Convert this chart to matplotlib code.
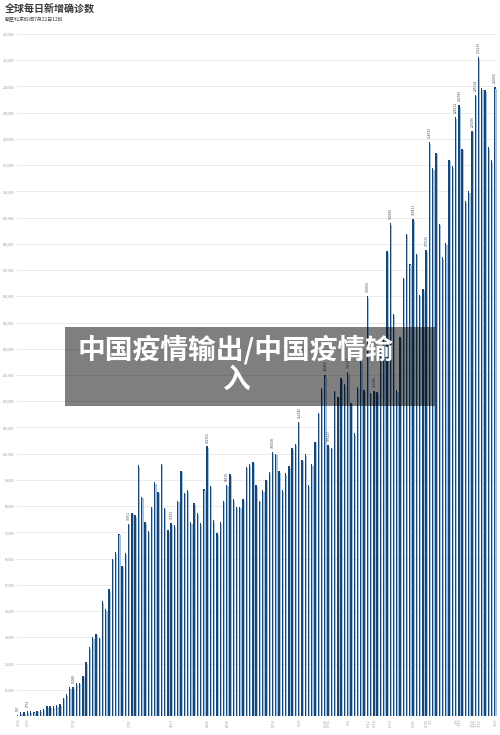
import numpy as np
import pandas as pd
import matplotlib
matplotlib.use("Agg")
import matplotlib.pyplot as plt
from matplotlib.patches import Rectangle

# daily new confirmed cases worldwide (last bar = 7/21)
daily_new = [
    557, 1400, 1500, 1772, 1800, 1700, 2000, 2200, 2700, 3700,
    3700, 3700, 4200, 4600, 6900, 8400, 10900, 11049, 12600, 12700,
    15400, 20500, 26200, 30000, 31300, 29800, 43800, 40700, 48400, 59900,
    62400, 69500, 57300, 62000, 73361, 77500, 76600, 95700, 83600, 73900,
    70500, 79800, 89100, 85500, 96100, 79400, 70900, 73531, 72800, 82100,
    93500, 85100, 86100, 73800, 81100, 77300, 73500, 86400, 102761, 87800,
    74700, 69600, 73800, 82000, 88195, 92200, 82700, 79800, 79800, 82700,
    95000, 96000, 97000, 88000, 82000, 86000, 90000, 93000, 100538, 100000,
    93400, 86000, 92600, 95200, 102000, 103800, 112146, 97700, 99800, 88000,
    96000, 104600, 115600, 125000, 129856, 103227, 102300, 124000, 121800, 128800,
    126400, 131027, 119400, 107900, 125300, 135500, 124100, 160050, 123200, 123936,
    123400, 140000, 145000, 177100, 187830, 153300, 124100, 144400, 167100, 183900,
    172500, 189411, 176200, 160600, 162600, 177523, 218729, 208900, 214800, 187700,
    175000, 180200, 212000, 209700, 228212, 232783, 216300, 196200, 200000, 223196,
    236914, 251239, 239400, 238600, 216800, 211800, 239695,
]
end_date = "2020-07-21"
# bars that carry a value label (and a date tick)
labelled = [0, 3, 17, 34, 47, 58, 64, 78, 86, 94, 95, 101, 107, 109,
            114, 121, 125, 126, 134, 135, 139, 140, 141, 146]
y_ticks = list(range(10000, 260001, 10000))

dates = pd.date_range(end=end_date, periods=len(daily_new), freq="D")
date_labels = [f"{d.month}/{d.day}" for d in dates]

plt.rcParams["font.family"] = ["Noto Sans CJK SC", "DejaVu Sans"]

W, H = 500, 735
fig = plt.figure(figsize=(W / 100, H / 100), dpi=100)
ax = fig.add_axes([16 / W, 19 / H, 481 / W, 682 / H])

x = np.arange(len(daily_new))
vals = np.array(daily_new)
# two-tone bars: dark edge on the left, light blue on the right
ax.bar(x - 0.16, vals, width=0.42, color="#1e4470", linewidth=0, zorder=3)
ax.bar(x + 0.22, vals - 600, width=0.36, color="#9fc6e8", linewidth=0, zorder=3)

ax.set_xlim(-0.61, 146.5)
ax.set_ylim(0, 260000)

ax.set_yticks(y_ticks)
ax.set_yticklabels([f"{v:,}" for v in y_ticks])
ax.grid(axis="y", color="#e8e8e8", linewidth=0.6)
ax.set_axisbelow(True)
for s in ax.spines.values():
    s.set_visible(False)
ax.tick_params(axis="y", length=0, pad=1, labelsize=2.3, labelcolor="#9a9a9a")

ax.set_xticks(labelled)
ax.set_xticklabels([date_labels[i] for i in labelled], rotation=90)
ax.tick_params(axis="x", length=0, pad=2, labelsize=2.7, labelcolor="#a0a0a0")

for i in labelled:
    ax.text(i, daily_new[i] + 1500, str(daily_new[i]), rotation=90,
            ha="center", va="bottom", fontsize=2.4, color="#3e5068",
            clip_on=False, zorder=4)

fig.text(5 / W, 1 - 9 / H, "全球每日新增确诊数", fontsize=7.2, weight="bold",
         color="#3a3a3a", va="center")
fig.text(5 / W, 1 - 19.5 / H, "截至北京时间7月22日12时", fontsize=3.6,
         color="#444444", va="center")

# grey banner laid over the chart
fig.patches.append(Rectangle((65 / W, 1 - 406 / H), 370 / W, 79 / H,
                             transform=fig.transFigure, color="black",
                             alpha=0.5, linewidth=0, zorder=10))
fig.text(236 / W, 1 - 350 / H, "中国疫情输出/中国疫情输", ha="center",
         va="center", fontsize=20, weight="bold", color="white", zorder=11)
fig.text(236 / W, 1 - 380 / H, "入", ha="center", va="center",
         fontsize=20, weight="bold", color="white", zorder=11)

fig.savefig("out.png", dpi=100)
